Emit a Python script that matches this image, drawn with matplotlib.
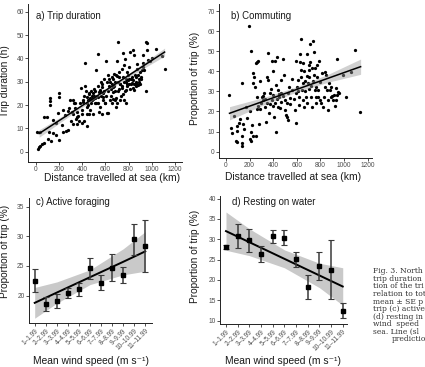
import matplotlib
matplotlib.use("Agg")
import matplotlib.pyplot as plt
import numpy as np

W, H = 425, 367

# ── a) trip duration vs distance travelled (km, h) ─────────────────────────
trip_pts = [
    (20, 1.3), (30, 2.0), (40, 2.6), (55, 3.2), (70, 3.6), (109, 5.3), (132, 4.6), (198, 5.0),
    (14, 8.3), (37, 8.5), (118, 8.5), (152, 8.1), (175, 7.1), (238, 8.3), (261, 9.0), (281, 9.3),
    (75, 15.0), (95, 15.0), (126, 23.1), (123, 21.7), (126, 19.9), (198, 25.1), (204, 23.5),
    (152, 13.5), (175, 12.1), (224, 11.4), (195, 16.4), (238, 17.8), (255, 15.7), (275, 17.4),
    (287, 18.9), (296, 22.1), (318, 22.1), (330, 20.7), (339, 18.7), (324, 16.1), (353, 17.0),
    (347, 14.2), (367, 15.4), (376, 13.1), (359, 11.8), (396, 12.1), (439, 11.0),
    (390, 27.5), (425, 28.1), (425, 38.0), (405, 22.1), (445, 23.5), (462, 24.9), (468, 22.8),
    (482, 23.8), (453, 22.1), (491, 22.4), (439, 19.2), (468, 17.8), (511, 20.7),
    (534, 41.9), (522, 34.9), (545, 25.6), (554, 26.4), (568, 27.8), (583, 22.1), (597, 20.7),
    (606, 38.7), (611, 16.4), (626, 16.4), (554, 19.2), (577, 23.5), (540, 23.5),
    (640, 29.9), (654, 32.1), (663, 27.8), (669, 25.6), (683, 22.1), (692, 19.2), (697, 20.7),
    (703, 32.3), (712, 47.0), (718, 32.1), (697, 38.7), (677, 33.5), (663, 22.8), (640, 22.1),
    (726, 29.2), (740, 27.1), (755, 24.9), (761, 22.1), (749, 42.3), (769, 39.9), (778, 31.3),
    (784, 29.2), (798, 30.6), (789, 34.2), (806, 36.3), (778, 26.4), (761, 37.0), (740, 35.6),
    (812, 42.7), (835, 43.4), (850, 41.3), (827, 32.1), (841, 30.6), (855, 29.2), (864, 32.1),
    (870, 35.6), (875, 37.7), (847, 26.4), (835, 27.1), (827, 29.5), (893, 31.3), (884, 28.5),
    (904, 32.1), (913, 34.9), (927, 36.3), (947, 47.0), (961, 46.6), (950, 26.1), (970, 39.2),
    (984, 38.7), (999, 40.2), (956, 43.4), (927, 41.3), (1036, 43.9), (1085, 40.9), (1111, 35.3),
    (410, 21.5), (415, 24.0), (430, 26.0), (440, 21.0), (450, 20.0), (455, 25.0), (460, 22.0),
    (470, 23.0), (475, 21.0), (480, 26.0), (488, 22.0), (495, 25.0), (500, 24.0), (505, 27.0),
    (510, 23.0), (515, 26.0), (520, 21.0), (530, 24.0), (535, 28.0), (540, 21.0), (545, 17.0),
    (550, 26.0), (560, 30.0), (565, 24.0), (570, 16.0), (575, 29.0), (580, 25.0), (585, 31.0),
    (590, 26.0), (595, 21.0), (605, 24.0), (615, 30.0), (620, 26.0), (625, 33.0), (630, 28.0),
    (635, 31.0), (645, 27.0), (650, 24.0), (655, 29.0), (660, 21.0), (665, 31.0), (672, 28.0),
    (680, 30.0), (685, 26.0), (690, 33.0), (695, 23.0), (705, 26.0), (710, 30.0), (715, 27.0),
    (720, 34.0), (725, 22.0), (730, 29.0), (735, 24.0), (745, 28.0), (750, 32.0), (758, 30.0),
    (765, 26.0), (775, 30.0), (780, 21.0), (790, 28.0), (795, 33.0), (800, 29.0), (805, 31.0),
    (810, 27.0), (820, 29.0), (825, 31.0), (845, 29.0), (855, 33.0), (860, 28.0), (865, 30.0),
    (875, 29.0), (880, 33.0), (890, 30.0), (895, 34.0), (900, 29.0), (910, 31.0), (920, 38.0),
    (935, 35.0), (300, 13.0), (310, 17.0), (320, 12.0), (340, 21.0), (360, 15.0), (380, 21.0),
    (395, 18.0), (400, 16.0), (420, 13.0), (445, 16.0), (460, 16.0), (490, 16.0),
]
fit_a_x = [30, 300, 570, 840, 1110]
fit_a_y = [7.8, 16.5, 25.25, 33.97, 42.7]
fit_a_ci = [1.6, 0.9, 0.6, 0.9, 1.7]

# ── b) commuting (% of trip) vs distance travelled ─────────────────────────
commute_pts = [
    (28, 28.0), (39, 11.6), (48, 9.1), (70, 17.7), (85, 5.5), (96, 5.0), (90, 10.4), (90, 12.8),
    (113, 14.1), (118, 16.1), (132, 4.1), (132, 3.0), (132, 34.0), (138, 7.8), (146, 13.6),
    (155, 11.1), (166, 22.4), (175, 16.6), (197, 62.7), (203, 6.1), (208, 5.3), (203, 20.2),
    (208, 10.0), (214, 50.2), (217, 13.3), (225, 7.8), (231, 39.0), (225, 34.0), (237, 37.0),
    (245, 32.0), (251, 43.9), (259, 27.4), (265, 44.8), (273, 45.1), (254, 7.8), (273, 22.7),
    (282, 13.8), (287, 21.1), (293, 24.0), (301, 27.4), (310, 27.7), (316, 25.7), (321, 29.4),
    (330, 22.4), (338, 14.9), (344, 37.3), (352, 35.7), (358, 49.1), (363, 19.1), (372, 29.0),
    (377, 23.7), (380, 31.0), (386, 25.7), (392, 45.3), (394, 40.3), (400, 22.7), (406, 17.4),
    (411, 45.1), (417, 24.0), (423, 10.0), (428, 26.0), (434, 47.3), (437, 30.7), (442, 22.4),
    (451, 28.5), (456, 21.6), (462, 35.7), (470, 24.9), (479, 45.9), (485, 27.7), (490, 38.1),
    (496, 20.7), (501, 25.7), (507, 18.2), (513, 17.4), (521, 29.0), (527, 15.8), (535, 32.0),
    (541, 23.7), (546, 26.5), (555, 30.7), (583, 20.7), (592, 29.0), (597, 14.4), (597, 45.3),
    (603, 32.0), (611, 35.7), (617, 23.2), (620, 27.4), (625, 44.8), (631, 48.4), (634, 56.2),
    (637, 40.6), (639, 37.0), (642, 30.7), (648, 25.7), (651, 34.3), (654, 44.3), (659, 40.3),
    (662, 22.4), (668, 35.3), (676, 27.4), (682, 37.6), (687, 48.6), (690, 24.0), (696, 34.0),
    (699, 40.6), (701, 43.1), (704, 37.0), (710, 44.8), (713, 53.7), (718, 27.4), (724, 32.7),
    (727, 41.5), (732, 22.4), (735, 35.2), (741, 55.0), (744, 49.8), (746, 38.1), (752, 30.7),
    (755, 41.5), (761, 27.4), (763, 32.0), (766, 24.0), (772, 43.1), (775, 37.3), (780, 30.7),
    (783, 27.4), (789, 45.3), (794, 34.8), (800, 25.7), (808, 24.0), (817, 39.0), (823, 22.1),
    (831, 27.4), (837, 32.0), (842, 39.8), (851, 38.1), (856, 30.7), (862, 25.7), (868, 20.7),
    (873, 34.0), (879, 30.7), (887, 32.3), (893, 27.0), (901, 27.9), (907, 25.7), (916, 28.2),
    (921, 22.7), (930, 25.7), (935, 31.5), (941, 46.1), (944, 28.2), (949, 29.9), (958, 29.0),
    (992, 38.1), (1020, 27.4), (1059, 39.8), (1096, 50.6), (1135, 19.7),
    (260, 21.0), (290, 35.0), (330, 26.0), (350, 24.0), (395, 28.0), (420, 33.0), (445, 27.0),
    (465, 29.0), (520, 24.0), (560, 36.0), (575, 26.0), (610, 30.0), (665, 30.0), (705, 31.0),
]
fit_b_x = [30, 310, 590, 870, 1140]
fit_b_y = [19.1, 24.95, 30.8, 36.65, 42.3]
fit_b_ci = [3.3, 1.9, 1.3, 2.0, 3.8]

# ── c, d) mean ± SE proportion of trip by wind-speed class ─────────────────
wind_classes = ["1–1.99", "2–2.99", "3–3.99", "4–4.99", "5–5.99", "6–6.99",
                "7–7.99", "8–8.99", "9–9.99", "10–10.99", "11–11.99"]
forage_mean = [22.5, 18.6, 19.1, 20.5, 21.1, 24.6, 22.2, 24.7, 23.5, 29.5, 28.4]
forage_se = [1.95, 1.2, 1.2, 0.85, 1.1, 1.75, 1.25, 2.25, 1.35, 2.65, 4.4]
rest_mean = [28.1, 30.8, 29.7, 26.3, 30.7, 30.4, 25.1, 18.3, 23.5, 22.5, 12.5]
rest_se = [0.6, 2.85, 2.85, 1.95, 1.65, 1.8, 1.85, 3.0, 3.45, 7.2, 1.9]

fit_cd_x = [1, 3, 6, 9, 11]
fit_c_y = [18.76, 20.5, 23.1, 25.7, 27.47]
fit_c_ci = [2.6, 1.8, 1.25, 2.2, 3.35]
fit_d_y = [32.0, 29.28, 25.2, 21.12, 18.4]
fit_d_ci = [4.7, 3.3, 2.2, 3.0, 4.6]

# the page caption, as far as it is visible before the right edge
caption_lines = [
    "Fig. 3. North",
    "trip duration",
    "tion of the tri",
    "relation to tot",
    "mean ± SE p",
    "trip (c) active",
    "(d) resting in",
    "wind  speed",
    "sea. Line (sl",
    "predictio",
]

plt.rcParams["font.family"] = ["Liberation Sans", "DejaVu Sans"]

fig = plt.figure(figsize=(W / 100, H / 100), dpi=100)


def px(x, y):
    """pixel position (from top-left) -> figure fraction"""
    return x / W, 1 - y / H


def make_axes(left, top, right, bottom):
    x0, y0 = px(left, bottom)
    x1, y1 = px(right, top)
    return fig.add_axes([x0, y0, x1 - x0, y1 - y0])


def style(ax):
    for s in ("top", "right"):
        ax.spines[s].set_visible(False)
    for s in ("left", "bottom"):
        ax.spines[s].set_color("#222222")
        ax.spines[s].set_linewidth(0.7)
    ax.tick_params(length=2, width=0.6, color="#333333", labelsize=4.8,
                   labelcolor="#4d4d4d", pad=1.0)


def labels(ax, xlabel, xl_pos, ylabel, yl_pos, title, t_pos):
    ax.set_xlabel(xlabel, fontsize=7.4, color="#1a1a1a")
    ax.xaxis.set_label_coords(*px(*xl_pos), transform=fig.transFigure)
    ax.set_ylabel(ylabel, fontsize=7.3, color="#1a1a1a")
    ax.yaxis.set_label_coords(*px(*yl_pos), transform=fig.transFigure)
    ax.text(*px(*t_pos), title, transform=fig.transFigure, fontsize=6.9,
            ha="left", va="center", color="#1a1a1a")


band_col = "#c9c9c9"

# ── panel a ────────────────────────────────────────────────────────────────
ax = make_axes(28, 4, 182, 162)
style(ax)
xa, ya = np.array(trip_pts).T
ax.scatter(xa, ya, s=5.5, c="black", linewidths=0, zorder=2)
lo = np.array(fit_a_y) - np.array(fit_a_ci)
hi = np.array(fit_a_y) + np.array(fit_a_ci)
ax.fill_between(fit_a_x, lo, hi, color="#999999", alpha=0.45, linewidth=0, zorder=3)
ax.plot(fit_a_x, fit_a_y, color="black", lw=1.1, zorder=4)
ax.set_xlim(-66, 1260)
ax.set_ylim(-4.4, 63.3)
ax.set_xticks(range(0, 1201, 200))
ax.set_yticks(range(0, 61, 10))
labels(ax, "Distance travelled at sea (km)", (112, 173.2),
       "Trip duration (h)", (10.5, 81), "a) Trip duration", (35.7, 15.7))

# ── panel b ────────────────────────────────────────────────────────────────
ax = make_axes(219, 4, 372.3, 157.7)
style(ax)
xb, yb = np.array(commute_pts).T
ax.scatter(xb, yb, s=5.5, c="black", linewidths=0, zorder=2)
lo = np.array(fit_b_y) - np.array(fit_b_ci)
hi = np.array(fit_b_y) + np.array(fit_b_ci)
ax.fill_between(fit_b_x, lo, hi, color="#999999", alpha=0.45, linewidth=0, zorder=3)
ax.plot(fit_b_x, fit_b_y, color="black", lw=1.1, zorder=4)
ax.set_xlim(-59, 1239)
ax.set_ylim(-3.0, 73.5)
ax.set_xticks(range(0, 1201, 200))
ax.set_yticks(range(0, 71, 10))
labels(ax, "Distance travelled at sea (km)", (293.3, 172.2),
       "Proportion of trip (%)", (200.5, 78), "b) Commuting", (230.7, 15.7))

# ── panels c and d ─────────────────────────────────────────────────────────
cats = np.arange(1, len(wind_classes) + 1)


def wind_panel(ax, mean, se, fit_y, fit_ci):
    style(ax)
    lo = np.array(fit_y) - np.array(fit_ci)
    hi = np.array(fit_y) + np.array(fit_ci)
    ax.fill_between(fit_cd_x, lo, hi, color=band_col, linewidth=0, zorder=1)
    ax.plot(fit_cd_x, fit_y, color="black", lw=1.4, zorder=2)
    ax.errorbar(cats, mean, yerr=se, fmt="none", ecolor="#3a3a3a", elinewidth=1.1,
                capsize=2, capthick=0.8, zorder=3)
    ax.plot(cats, mean, "s", color="black", ms=2.3, zorder=4)
    ax.set_xticks(cats)
    ax.set_xticklabels(wind_classes, rotation=45, ha="right", va="top",
                       rotation_mode="anchor", fontsize=4.7)


ax = make_axes(28.7, 198, 151.7, 323.3)
wind_panel(ax, forage_mean, forage_se, fit_c_y, fit_c_ci)
ax.set_xlim(0.457, 11.58)
ax.set_ylim(15.3, 36.5)
ax.set_yticks([20, 25, 30, 35])
labels(ax, "Mean wind speed (m s⁻¹)", (90.8, 355.8),
       "Proportion of trip (%)", (10.3, 251), "c) Active foraging", (35.7, 202.3))

ax = make_axes(220, 195.7, 346.7, 324)
wind_panel(ax, rest_mean, rest_se, fit_d_y, fit_d_ci)
ax.set_xlim(0.486, 11.34)
ax.set_ylim(9.19, 40.7)
ax.set_yticks(range(10, 41, 5))
labels(ax, "Mean wind speed (m s⁻¹)", (283.3, 355.8),
       "Proportion of trip (%)", (199.5, 256), "d) Resting on water", (231.7, 201.7))

# ── caption fragment at the right edge ─────────────────────────────────────
for i, line in enumerate(caption_lines):
    x0 = 391.7 if i == len(caption_lines) - 1 else 373.3
    fig.text(*px(x0, 270.3 + 7.55 * i), line, family="DejaVu Serif", fontsize=5.5,
             color="#333333", ha="left", va="center_baseline")

fig.savefig("out.png", dpi=100)
